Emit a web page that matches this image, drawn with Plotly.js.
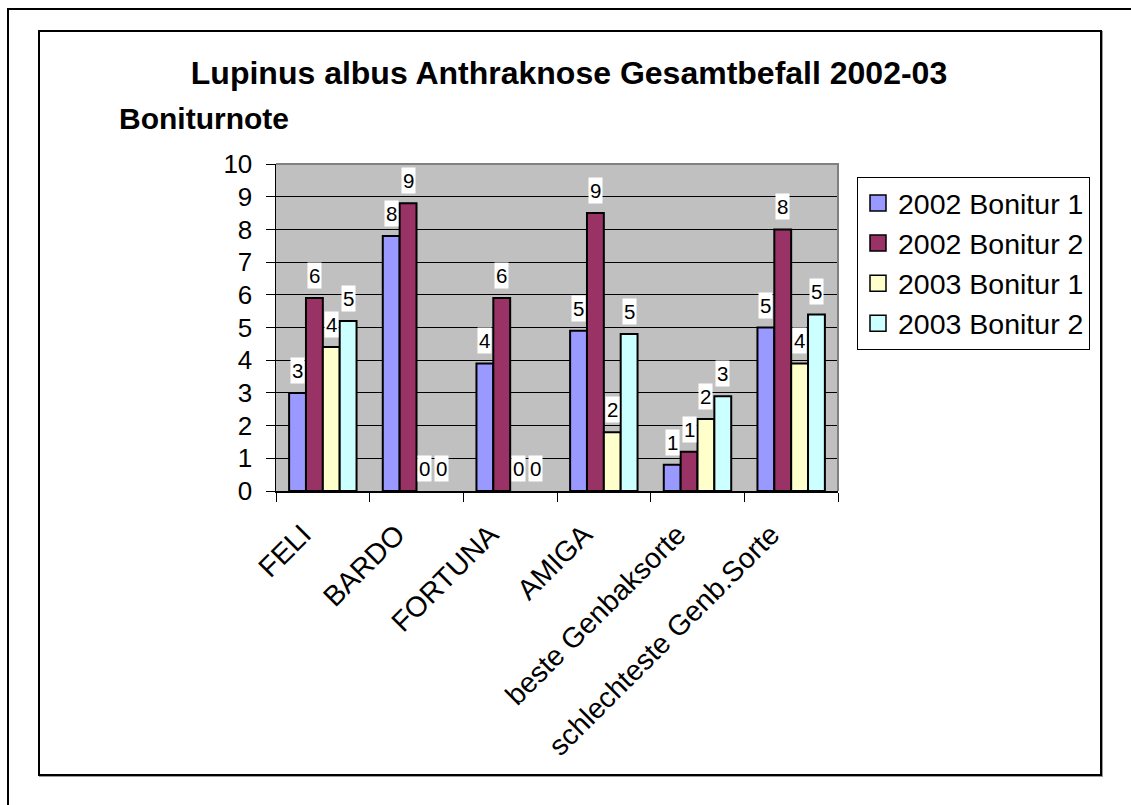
<!DOCTYPE html>
<html>
<head>
<meta charset="utf-8">
<script src="https://cdn.plot.ly/plotly-3.0.1.min.js"></script>
<style>
  html, body { margin: 0; padding: 0; background: #fff; }
  #wrap { position: relative; width: 1131px; height: 805px; overflow: hidden; }
  #chart { position: absolute; left: 0; top: 0; width: 1131px; height: 805px; }
  .frame { position: absolute; pointer-events: none; box-sizing: border-box; }
  #outer { left: 7px; top: 8px; width: 1200px; height: 900px; border: 2px solid #000; box-shadow: 1px 1px 0 #888; }
  #inner { left: 38px; top: 30px; width: 1064px; height: 746px; border: 2px solid #000; box-shadow: 1px 1px 0 #999; }
</style>
</head>
<body>
<div id="wrap">
  <div id="chart"></div>
  <div class="frame" id="outer"></div>
  <div class="frame" id="inner"></div>
</div>
<script>
const categories = ["FELI", "BARDO", "FORTUNA", "AMIGA", "beste Genbaksorte", "schlechteste Genb.Sorte"];
const seriesNames = ["2002 Bonitur 1", "2002 Bonitur 2", "2003 Bonitur 1", "2003 Bonitur 2"];
const bonitur2002_1 = [3.0, 7.8, 3.9, 4.9, 0.8, 5.0];
const bonitur2002_2 = [5.9, 8.8, 5.9, 8.5, 1.2, 8.0];
const bonitur2003_1 = [4.4, 0, 0, 1.8, 2.2, 3.9];
const bonitur2003_2 = [5.2, 0, 0, 4.8, 2.9, 5.4];
const yTicks = [0, 1, 2, 3, 4, 5, 6, 7, 8, 9, 10];

const seriesValues = [bonitur2002_1, bonitur2002_2, bonitur2003_1, bonitur2003_2];
const colors = ["#9999FF", "#993366", "#FFFFCC", "#CCFFFF"];
const FONT = "Liberation Sans, Arial, sans-serif";

const barW = 0.18;
const traces = seriesValues.map((vals, i) => ({
  type: "bar",
  name: seriesNames[i],
  x: categories,
  y: vals,
  width: barW,
  offset: -2 * barW + i * barW,
  marker: { color: colors[i], line: { color: "#000", width: vals.map(v => v === 0 ? 0 : 2) } },
  showlegend: false,
  hoverinfo: "x+y+name"
}));

// legend entries (square swatches like the original)
seriesNames.forEach((name, i) => {
  traces.push({
    type: "scatter",
    mode: "markers",
    name: name,
    x: [null], y: [null],
    marker: { symbol: "square", size: 16, color: colors[i], line: { color: "#000", width: 1.5 } },
    legendgroup: "g" + i,
    showlegend: true,
    hoverinfo: "skip"
  });
});

const annotations = [];
seriesValues.forEach((vals, i) => {
  vals.forEach((v, j) => {
    annotations.push({
      x: j - 2 * barW + i * barW + barW / 2,
      y: v,
      xref: "x", yref: "y",
      text: String(Math.round(v)),
      showarrow: false,
      yanchor: "bottom",
      yshift: 9,
      bgcolor: "#ffffff",
      borderpad: 1,
      font: { family: FONT, size: 20.5, color: "#000" }
    });
  });
});

annotations.push({
  xref: "paper", yref: "paper",
  x: (117 - 276) / 562, y: (491 - 118) / 327,
  xanchor: "left", yanchor: "middle",
  text: "<b>Boniturnote</b>",
  showarrow: false,
  font: { family: FONT, size: 30, color: "#000" }
});

const layout = {
  width: 1131, height: 805,
  margin: { l: 276, r: 293, t: 164, b: 314, pad: 0 },
  paper_bgcolor: "#ffffff",
  plot_bgcolor: "#C0C0C0",
  font: { family: FONT, size: 26, color: "#000" },
  title: {
    text: "<b>Lupinus albus Anthraknose Gesamtbefall 2002-03</b>",
    font: { family: FONT, size: 32, color: "#000" },
    xref: "container", yref: "container",
    x: 569 / 1131, xanchor: "center",
    y: 1 - 73 / 805, yanchor: "middle"
  },
  barmode: "group",
  showlegend: true,
  legend: {
    xref: "container", yref: "container",
    x: 857 / 1131, xanchor: "left",
    y: 1 - 177 / 805, yanchor: "top",
    bgcolor: "#ffffff",
    bordercolor: "#000", borderwidth: 1,
    font: { family: FONT, size: 28.5, color: "#000" },
    traceorder: "normal",
    tracegroupgap: 4
  },
  xaxis: {
    type: "category",
    range: [-0.5, 5.5],
    showgrid: false,
    showline: true, linecolor: "#000", linewidth: 1.5,
    ticks: "outside", tickson: "boundaries", ticklen: 9, tickcolor: "#000", tickwidth: 1,
    tickangle: -45,
    ticklabelshift: -20,
    ticklabelstandoff: 14,
    tickfont: { family: FONT, size: 28.5, color: "#000" },
    fixedrange: true
  },
  yaxis: {
    range: [0, 10],
    tickvals: yTicks,
    ticktext: yTicks.map(String),
    showgrid: true, gridcolor: "#000", gridwidth: 1,
    zeroline: false,
    showline: true, linecolor: "#000", linewidth: 1.5,
    ticks: "outside", ticklen: 9, tickcolor: "#000", tickwidth: 1,
    ticklabelstandoff: 8,
    tickfont: { family: FONT, size: 26, color: "#000" },
    fixedrange: true
  },
  shapes: [{
    type: "path", xref: "paper", yref: "paper",
    path: "M 0 1 L 1 1 L 1 0",
    line: { color: "#808080", width: 2 },
    layer: "above"
  }],
  annotations: annotations
};

Plotly.newPlot("chart", traces, layout, { displayModeBar: false, staticPlot: true });
</script>
</body>
</html>
